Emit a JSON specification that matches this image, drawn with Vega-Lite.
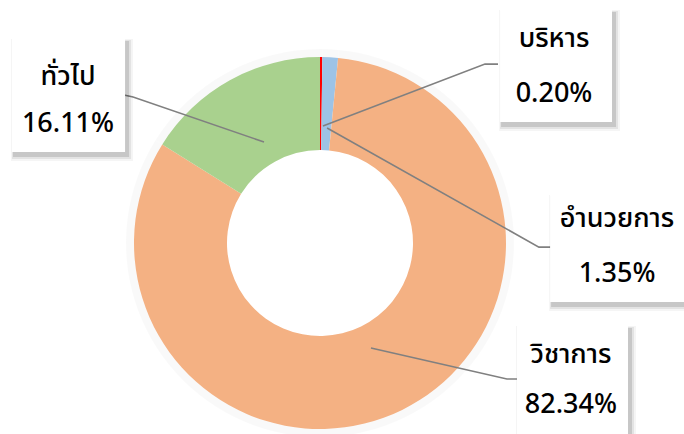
{
  "$schema": "https://vega.github.io/schema/vega-lite/v6.json",
  "width": 684,
  "height": 434,
  "autosize": {"type": "none"},
  "padding": 0,
  "background": "#ffffff",
  "config": {"view": {"stroke": null}},
  "datasets": {
    "slices": [
      {"category": "บริหาร", "share": 0.002, "order": 1},
      {"category": "อำนวยการ", "share": 0.0135, "order": 2},
      {"category": "วิชาการ", "share": 0.8234, "order": 3},
      {"category": "ทั่วไป", "share": 0.1611, "order": 4}
    ],
    "labels": [
      {"category": "ทั่วไป", "bx1": -165.6, "bx2": -104.8, "by1": 110.2, "by2": 48.9, "tx": -135.5, "ty": 84.9, "ty2": 59.7},
      {"category": "บริหาร", "bx1": 96.8, "bx2": 157.0, "by1": 125.8, "by2": 65.1, "tx": 125.8, "ty": 105.4, "ty2": 75.8},
      {"category": "อำนวยการ", "bx1": 123.7, "bx2": 204.3, "by1": 26.3, "by2": -31.7, "tx": 159.7, "ty": 8.6, "ty2": -21.0},
      {"category": "วิชาการ", "bx1": 105.9, "bx2": 165.6, "by1": -44.1, "by2": -111.3, "tx": 134.9, "ty": -64.5, "ty2": -91.4}
    ],
    "leaders": [
      {"category": "ทั่วไป", "seq": 1, "lx": -105.4, "ly": 79.6},
      {"category": "ทั่วไป", "seq": 2, "lx": -100.5, "ly": 78.5},
      {"category": "ทั่วไป", "seq": 3, "lx": -30.1, "ly": 54.3},
      {"category": "บริหาร", "seq": 1, "lx": 95.7, "ly": 96.2},
      {"category": "บริหาร", "seq": 2, "lx": 88.7, "ly": 96.2},
      {"category": "บริหาร", "seq": 3, "lx": 1.6, "ly": 62.9},
      {"category": "อำนวยการ", "seq": 1, "lx": 3.8, "ly": 61.8},
      {"category": "อำนวยการ", "seq": 2, "lx": 117.7, "ly": -2.2},
      {"category": "อำนวยการ", "seq": 3, "lx": 124.2, "ly": -2.2},
      {"category": "วิชาการ", "seq": 1, "lx": 27.4, "ly": -56.5},
      {"category": "วิชาการ", "seq": 2, "lx": 100.5, "ly": -73.1},
      {"category": "วิชาการ", "seq": 3, "lx": 105.9, "ly": -73.1}
    ]
  },
  "layer": [
    {
      "data": {"name": "slices"},
      "transform": [
        {"stack": "share", "groupby": [], "sort": [{"field": "order"}], "as": ["s0", "s1"]}
      ],
      "mark": {"type": "arc", "outerRadius": 194, "innerRadius": 180, "color": "#000000", "opacity": 0.025},
      "encoding": {
        "x": {"datum": 0, "type": "quantitative", "scale": {"domain": [-172.04, 195.70], "nice": false, "zero": false}, "axis": null},
        "y": {"datum": 0, "type": "quantitative", "scale": {"domain": [-102.69, 130.65], "nice": false, "zero": false}, "axis": null},
        "theta": {"field": "s0", "type": "quantitative", "scale": {"domain": [0, 1], "range": [0, 6.283185]}},
        "theta2": {"field": "s1"}
      }
    },
    {
      "data": {"name": "slices"},
      "transform": [
        {"stack": "share", "groupby": [], "sort": [{"field": "order"}], "as": ["s0", "s1"]}
      ],
      "mark": {"type": "arc", "outerRadius": 186, "innerRadius": 93},
      "encoding": {
        "x": {"datum": 0, "type": "quantitative", "scale": {"domain": [-172.04, 195.70], "nice": false, "zero": false}, "axis": null},
        "y": {"datum": 0, "type": "quantitative", "scale": {"domain": [-102.69, 130.65], "nice": false, "zero": false}, "axis": null},
        "theta": {"field": "s0", "type": "quantitative", "scale": {"domain": [0, 1], "range": [0, 6.283185]}},
        "theta2": {"field": "s1"},
        "color": {
          "field": "category", "type": "nominal",
          "scale": {"domain": ["บริหาร", "อำนวยการ", "วิชาการ", "ทั่วไป"], "range": ["#FF0000", "#9DC3E6", "#F4B183", "#A9D18E"]},
          "legend": null
        }
      }
    },
    {
      "data": {"name": "leaders"},
      "mark": {"type": "line", "color": "#808080", "strokeWidth": 1.6},
      "encoding": {
        "x": {"field": "lx", "type": "quantitative", "scale": {"domain": [-172.04, 195.70], "nice": false, "zero": false}, "axis": null},
        "y": {"field": "ly", "type": "quantitative", "scale": {"domain": [-102.69, 130.65], "nice": false, "zero": false}, "axis": null},
        "detail": {"field": "category"},
        "order": {"field": "seq"}
      }
    },
    {
      "data": {"name": "labels"},
      "mark": {"type": "rect", "color": "#000000", "opacity": 0.04, "xOffset": -1, "x2Offset": 8, "yOffset": 1, "y2Offset": 9},
      "encoding": {
        "x": {"field": "bx1", "type": "quantitative", "scale": {"domain": [-172.04, 195.70], "nice": false, "zero": false}, "axis": null},
        "x2": {"field": "bx2"},
        "y": {"field": "by1", "type": "quantitative", "scale": {"domain": [-102.69, 130.65], "nice": false, "zero": false}, "axis": null},
        "y2": {"field": "by2"}
      }
    },
    {
      "data": {"name": "labels"},
      "mark": {"type": "rect", "color": "#000000", "opacity": 0.07, "xOffset": 0, "x2Offset": 6, "yOffset": 2, "y2Offset": 7},
      "encoding": {
        "x": {"field": "bx1", "type": "quantitative", "scale": {"domain": [-172.04, 195.70], "nice": false, "zero": false}, "axis": null},
        "x2": {"field": "bx2"},
        "y": {"field": "by1", "type": "quantitative", "scale": {"domain": [-102.69, 130.65], "nice": false, "zero": false}, "axis": null},
        "y2": {"field": "by2"}
      }
    },
    {
      "data": {"name": "labels"},
      "mark": {"type": "rect", "color": "#000000", "opacity": 0.12, "xOffset": 1, "x2Offset": 4, "yOffset": 3, "y2Offset": 5},
      "encoding": {
        "x": {"field": "bx1", "type": "quantitative", "scale": {"domain": [-172.04, 195.70], "nice": false, "zero": false}, "axis": null},
        "x2": {"field": "bx2"},
        "y": {"field": "by1", "type": "quantitative", "scale": {"domain": [-102.69, 130.65], "nice": false, "zero": false}, "axis": null},
        "y2": {"field": "by2"}
      }
    },
    {
      "data": {"name": "labels"},
      "mark": {"type": "rect", "color": "#ffffff", "opacity": 1},
      "encoding": {
        "x": {"field": "bx1", "type": "quantitative", "scale": {"domain": [-172.04, 195.70], "nice": false, "zero": false}, "axis": null},
        "x2": {"field": "bx2"},
        "y": {"field": "by1", "type": "quantitative", "scale": {"domain": [-102.69, 130.65], "nice": false, "zero": false}, "axis": null},
        "y2": {"field": "by2"}
      }
    },
    {
      "data": {"name": "labels"},
      "mark": {"type": "text", "font": "Noto Sans Thai, Tahoma, Leelawadee UI, Noto Sans, sans-serif", "fontSize": 27, "fontWeight": 500, "color": "#000000", "align": "center", "baseline": "alphabetic"},
      "encoding": {
        "x": {"field": "tx", "type": "quantitative", "scale": {"domain": [-172.04, 195.70], "nice": false, "zero": false}, "axis": null},
        "y": {"field": "ty", "type": "quantitative", "scale": {"domain": [-102.69, 130.65], "nice": false, "zero": false}, "axis": null},
        "text": {"field": "category"}
      }
    },
    {
      "data": {"name": "labels"},
      "transform": [
        {"lookup": "category", "from": {"data": {"name": "slices"}, "key": "category", "fields": ["share"]}}
      ],
      "mark": {"type": "text", "font": "Noto Sans Thai, Tahoma, Leelawadee UI, Noto Sans, sans-serif", "fontSize": 27, "fontWeight": 500, "color": "#000000", "align": "center", "baseline": "alphabetic"},
      "encoding": {
        "x": {"field": "tx", "type": "quantitative", "scale": {"domain": [-172.04, 195.70], "nice": false, "zero": false}, "axis": null},
        "y": {"field": "ty2", "type": "quantitative", "scale": {"domain": [-102.69, 130.65], "nice": false, "zero": false}, "axis": null},
        "text": {"field": "share", "type": "quantitative", "format": ".2%"}
      }
    }
  ]
}
